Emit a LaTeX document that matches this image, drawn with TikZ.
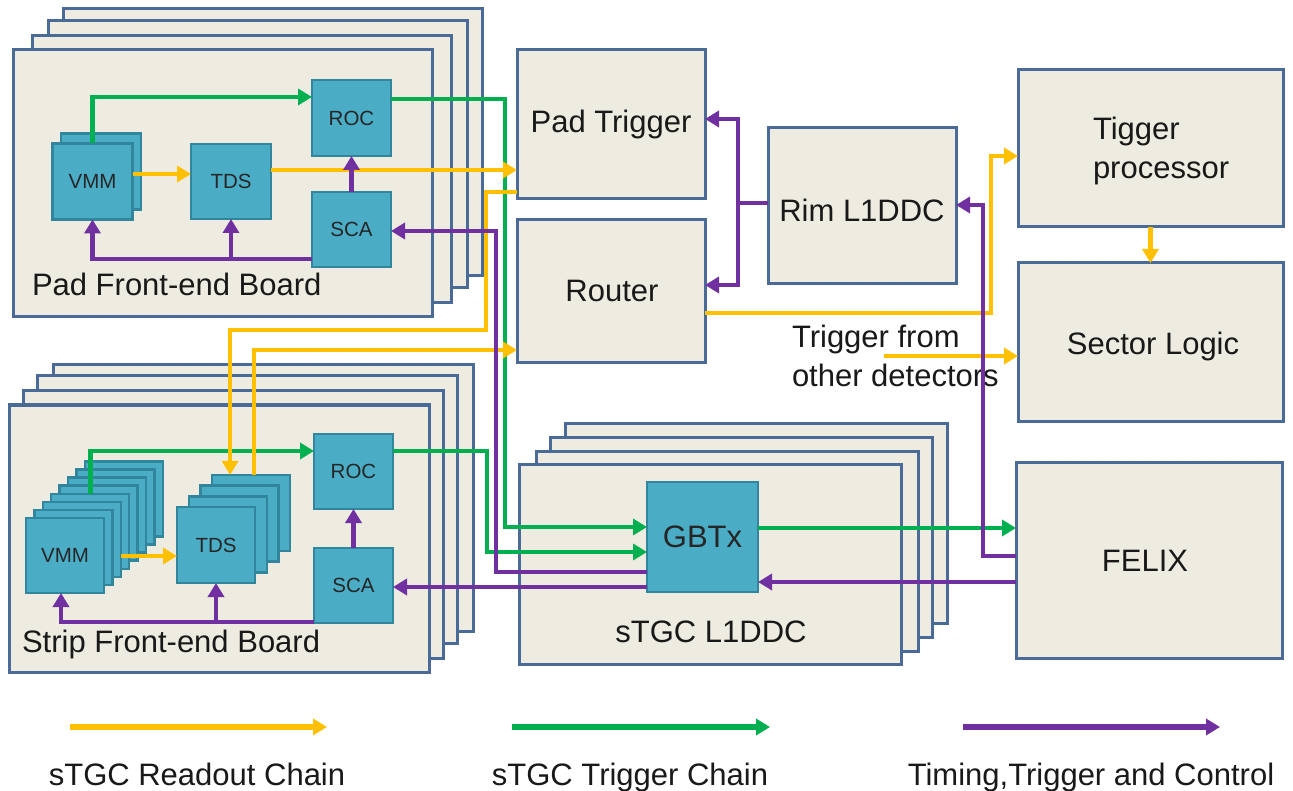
\documentclass[tikz,border=0pt]{standalone}
\usepackage{fontspec}
\setmainfont{Liberation Sans}
\usetikzlibrary{arrows.meta}
\definecolor{cY}{HTML}{FFC000}
\definecolor{cG}{HTML}{00B050}
\definecolor{cP}{HTML}{7030A0}
\definecolor{bfill}{HTML}{EEECE1}
\definecolor{bdraw}{HTML}{4A6B98}
\definecolor{chipf}{HTML}{4BACC6}
\definecolor{chipd}{HTML}{31859C}
\begin{document}
\begin{tikzpicture}[x=1pt,y=-1pt,
  board/.style={draw=bdraw,fill=bfill,line width=3pt,inner sep=0pt,outer sep=0pt},
  pfebbox/.style={board,minimum width=419,minimum height=267},
  sfebbox/.style={board,minimum width=420,minimum height=267},
  l1box/.style={board,minimum width=382,minimum height=200},
  chip/.style={draw=chipd,fill=chipf,line width=2.4pt,inner sep=0pt,outer sep=0pt,
    font=\fontsize{20.5}{24}\selectfont,text=black!85},
  txt/.style={font=\fontsize{31}{39}\selectfont,text=black!90,inner sep=0pt,outer sep=0pt},
  conn/.style={line width=4.6pt,-{Triangle[length=14pt,width=16pt]}},
  ylw/.style={conn,draw=cY},
  grn/.style={conn,draw=cG},
  pur/.style={conn,draw=cP}]
\fill[white] (0,0) rectangle (1293,791);
\useasboundingbox (0,0) rectangle (1293,791);

% ---------- Pad front-end boards ----------
\node[pfebbox] (pfeb3) at (272.5,142) {};
\node[pfebbox] (pfeb2) at (257.5,154.5) {};
\node[pfebbox] (pfeb1) at (242,169) {};
\node[pfebbox] (pfeb) at (222.5,183.5) {};
\node[txt,anchor=base west] (pfebl) at (32,296) {Pad Front-end Board};

\node[chip,minimum width=80,minimum height=76] (pVMMb) at (101,171.5) {};
\node[chip,minimum width=80,minimum height=76] (pVMM) at (92.5,181.5) {VMM};
\node[chip,minimum width=80,minimum height=75] (pTDS) at (231,181.5) {TDS};
\node[chip,minimum width=79,minimum height=76] (pROC) at (351.5,118) {ROC};
\node[chip,minimum width=79,minimum height=75] (pSCA) at (351.5,229.5) {SCA};

% ---------- Strip front-end boards ----------
\node[sfebbox] (sfeb3) at (263,498) {};
\node[sfebbox] (sfeb2) at (247.5,509.5) {};
\node[sfebbox] (sfeb1) at (233,524.5) {};
\node[sfebbox] (sfeb) at (219.5,538.5) {};
\node[txt,anchor=base west] (sfebl) at (22,652) {Strip Front-end Board};

\foreach \k in {7,6,...,1}
  \node[chip,minimum width=78,minimum height=75] (sVMM\k) at ({65+8.4*\k},{555.5-8.1*\k}) {};
\node[chip,minimum width=78,minimum height=75] (sVMM0) at (65,555.5) {VMM};
\foreach \k in {3,2,1}
  \node[chip,minimum width=78,minimum height=76] (sTDS\k) at ({216+11.7*\k},{545-10.7*\k}) {};
\node[chip,minimum width=78,minimum height=76] (sTDS0) at (216,545) {TDS};
\node[chip,minimum width=79,minimum height=75] (sROC) at (353.5,471.5) {ROC};
\node[chip,minimum width=79,minimum height=75] (sSCA) at (353.5,585.5) {SCA};

% ---------- sTGC L1DDC ----------
\node[l1box] (l1d3) at (756,523) {};
\node[l1box] (l1d2) at (741.5,537) {};
\node[l1box] (l1d1) at (727,551) {};
\node[l1box] (l1d) at (710,564) {};
\node[txt,anchor=base] (l1dl) at (711,642) {sTGC L1DDC};
\node[chip,minimum width=111,minimum height=110,font=\fontsize{31}{37}\selectfont] (gbtx) at (702.5,537) {GBTx};

% ---------- right-hand boxes ----------
\node[board,minimum width=188,minimum height=149] (pTrig) at (611,124.5) {};
\node[txt,anchor=base] (pTrigl) at (611,133) {Pad Trigger};
\node[board,minimum width=188,minimum height=143] (router) at (611,291.5) {};
\node[txt,anchor=base] (routerl) at (612,302) {Router};
\node[board,minimum width=188,minimum height=156] (rim) at (862,206) {};
\node[txt,anchor=base] (riml) at (862,222) {Rim L1DDC};
\node[board,minimum width=265,minimum height=157] (tproc) at (1150.5,148.5) {};
\node[txt,anchor=north west,align=left] (tprocl) at (1093,117.5) {Tigger\\processor};
\node[board,minimum width=265,minimum height=158] (slogic) at (1150.5,342) {};
\node[txt,anchor=base] (slogicl) at (1153,354.5) {Sector Logic};
\node[board,minimum width=266,minimum height=196] (felix) at (1149,560) {};
\node[txt,anchor=base] (felixl) at (1145,571) {FELIX};
\node[txt,anchor=north west,align=left] (otherl) at (792,325.5) {Trigger from\\other detectors};

% ---------- connectors: green ----------
\draw[grn] (pVMM.north) |- ([yshift=21]pROC.west);
\draw[grn] ([yshift=19]pROC.east) -- ++(114,0) |- ([yshift=10]gbtx.west);
\draw[grn] (sVMM3.north) |- ([yshift=20.5]sROC.west);
\draw[grn] ([yshift=20.5]sROC.east) -- ++(94,0) |- ([yshift=-15]gbtx.west);
\coordinate (g5) at ([yshift=9]gbtx.east);
\draw[grn] (g5) -- (g5 -| felix.west);

% ---------- connectors: yellow ----------
\draw[ylw] ([yshift=7.5]pVMM.east) -- ([yshift=7.5]pTDS.west);
\draw[ylw] ([yshift=11.5]pTDS.east) -- ([yshift=-45.5]pTrig.west);
\draw[ylw] ([yshift=-67.5]pTrig.west) -- ++(-31,0) -- ++(0,138) -| ([xshift=-21]sTDS3.north);
\draw[ylw] ([xshift=3]sTDS3.north) |- ([yshift=-58.5]router.west);
\coordinate (sy) at ([yshift=-11]sTDS0.west);
\draw[ylw] (sVMM2.east |- sy) -- (sy);
\draw[ylw] ([yshift=-21.5]router.east) -- ++(286,0) |- ([yshift=-7.5]tproc.west);
\draw[ylw] (tproc.south) -- (slogic.north);
\coordinate (trigsrc) at ([xshift=-134,yshift=-14]slogic.west);
\draw[ylw] (trigsrc) -- ([yshift=-14]slogic.west);

% ---------- connectors: purple ----------
\draw[pur] (pSCA.north) -- (pROC.south);
\coordinate (pbus) at ([yshift=-29.5]pSCA.west);
\draw[pur] (pbus) -| (pVMM.south);
\draw[pur] (pTDS.south |- pbus) -- (pTDS.south);
\draw[pur] ([yshift=-35]gbtx.west) -- ++(-151,0) |- ([yshift=-1.5]pSCA.east);
\draw[pur] (sSCA.north) -- (sROC.south);
\coordinate (sbus) at ([yshift=-36.5]sSCA.west);
\draw[pur] (sbus) -| ([xshift=-4]sVMM0.south);
\draw[pur] (sTDS0.south |- sbus) -- (sTDS0.south);
\draw[pur] ([yshift=-50]gbtx.west) -- ([yshift=-1.5]sSCA.east);
\coordinate (rx) at ([xshift=-30,yshift=3]rim.west);
\draw[pur,-] ([yshift=3]rim.west) -- (rx);
\draw[pur] (rx) |- ([yshift=5.5]pTrig.east);
\draw[pur] (rx) |- ([yshift=6.5]router.east);
\draw[pur] ([yshift=4]felix.west) -- ++(-33,0) |- ([yshift=1]rim.east);
\coordinate (p9) at ([yshift=-22]felix.west);
\draw[pur] (p9) -- (p9 -| gbtx.east);

% ---------- legend ----------
\coordinate (ly1) at (70,727);  \coordinate (ly2) at (327,727);
\coordinate (lg1) at (512,727); \coordinate (lg2) at (770,727);
\coordinate (lp1) at (963,727); \coordinate (lp2) at (1220,727);
\draw[ylw,line width=5.5pt] (ly1) -- (ly2);
\draw[grn,line width=5.5pt] (lg1) -- (lg2);
\draw[pur,line width=5.5pt] (lp1) -- (lp2);
\node[txt,anchor=base] (lyt) at (197,785) {sTGC Readout Chain};
\node[txt,anchor=base] (lgt) at (630,785) {sTGC Trigger Chain};
\node[txt,anchor=base] (lpt) at (1091,785) {Timing,Trigger and Control};
\end{tikzpicture}
\end{document}
